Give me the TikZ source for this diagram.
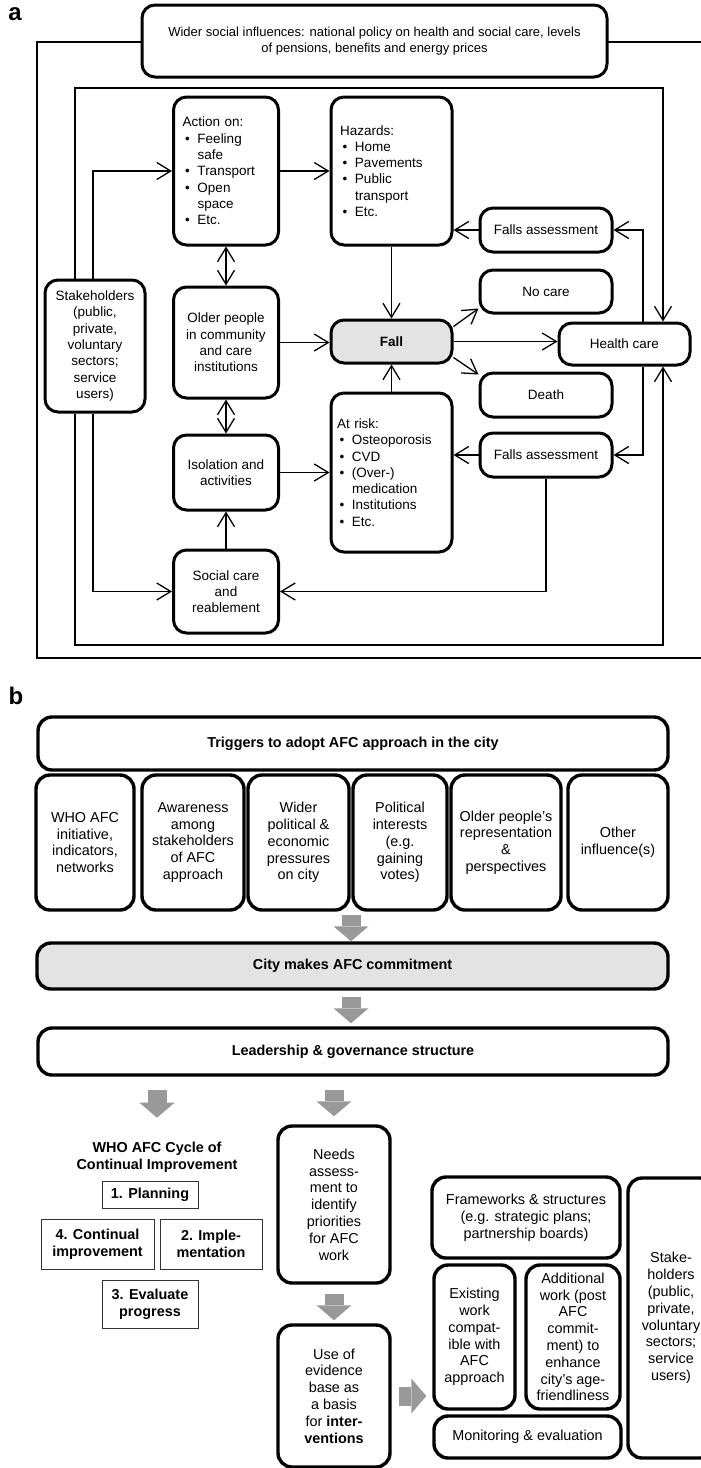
\documentclass[tikz,border=0pt]{standalone}
\usepackage{fontspec}
\setmainfont{Liberation Sans}
\usetikzlibrary{arrows.meta,calc}
\definecolor{blockgray}{gray}{0.6}
\definecolor{boxgray}{gray}{0.89}
\newcommand{\lbul}{\makebox[15pt][l]{\hspace{2.5pt}\textbullet}}
\newcommand{\lind}{\hspace*{15pt}}
\begin{document}
\begin{tikzpicture}[x=1pt,y=-1pt,
  fa/.style={font=\fontsize{13.5}{16.3}\selectfont},
  fb/.style={font=\fontsize{14.4}{16.8}\selectfont},
  fbb/.style={font=\fontsize{14.4}{16.8}\selectfont\bfseries},
  abox/.style={draw, line width=3pt, rounded corners=13pt, fill=white, fa, align=center, inner sep=2pt},
  lst/.style={abox, align=left},
  bbox/.style={draw, line width=3.4pt, rounded corners=14pt, fill=white, fb, align=center, inner sep=2pt},
  cbox/.style={draw=black!80, line width=1pt, fbb, align=center, inner sep=2pt},
  conn/.style={line width=1.3pt, -{Straight Barb[length=14pt,width=17pt]}},
  dconn/.style={line width=1.3pt, {Straight Barb[length=14pt,width=17pt]}-{Straight Barb[length=14pt,width=17pt]}},
  frameline/.style={line width=1.5pt},
  blk/.style={draw=blockgray, line width=19pt, -{Triangle[length=15pt,width=35pt,line width=0pt]}},
  plabel/.style={font=\fontsize{24}{24}\selectfont\bfseries, inner sep=0pt},
]
\path[use as bounding box] (0,0) rectangle (701,1468);
\clip (0,0) rectangle (701,1468);

% ---------------- panel a ----------------
\draw[frameline] (710,42) -- (37,42) -- (37,658) -- (710,658);
\node[plabel] (la) at (15,14) {a};
\node[abox, minimum width=465pt, minimum height=72pt, font=\fontsize{13}{16.7}\selectfont] (top) at (374.5,41)
  {Wider social influences: national policy on health and social care, levels\\of pensions, benefits and energy prices};

\node[lst, text width=87pt, inner xsep=9pt, minimum height=148pt] (action) at (226,171)
  {Action on:\\\lbul Feeling\\\lind safe\\\lbul Transport\\\lbul Open\\\lind space\\\lbul Etc.};
\node[lst, text width=103pt, inner xsep=9pt, minimum height=148pt] (hazards) at (391.5,171)
  {Hazards:\\\lbul Home\\\lbul Pavements\\\lbul Public\\\lind transport\\\lbul Etc.};
\node[abox, minimum width=100pt, minimum height=132pt] (stake) at (95,346)
  {Stakeholders\\(public,\\private,\\voluntary\\sectors;\\service\\users)};
\node[abox, minimum width=105pt, minimum height=111pt] (older) at (226,342.5)
  {Older people\\in community\\and care\\institutions};
\node[abox, fill=boxgray, minimum width=121pt, minimum height=43pt] (fall) at (391.5,341.5) {\textbf{Fall}};
\node[abox, minimum width=105pt, minimum height=75pt] (isol) at (226,472.5) {Isolation and\\activities};
\node[abox, minimum width=105pt, minimum height=83pt] (social) at (226,591.5) {Social care\\and\\reablement};
\node[lst, text width=109pt, inner xsep=6pt, minimum height=159pt] (atrisk) at (391.5,472.5)
  {At risk:\\\lbul Osteoporosis\\\lbul CVD\\\lbul (Over-)\\\lind medication\\\lbul Institutions\\\lbul Etc.};
\node[abox, minimum width=132pt, minimum height=44pt] (fa1) at (546,230) {Falls assessment};
\node[abox, minimum width=132pt, minimum height=43pt] (nocare) at (546,291.5) {No care};
\node[abox, minimum width=131pt, minimum height=42pt] (health) at (624.5,344) {Health care};
\node[abox, minimum width=132pt, minimum height=44pt] (death) at (546,395) {Death};
\node[abox, minimum width=132pt, minimum height=44pt] (fa2) at (546,455) {Falls assessment};

\coordinate (tl) at (75,88);
\coordinate (tr) at (663,88);
\coordinate (bl) at (75,645);
\coordinate (br) at (663,645);
\coordinate (s1) at (93,0);
\coordinate (hx) at (643,0);

\draw[conn] (stake.north -| tl) -- (tl) -- (tr) -- (health.north -| tr);
\draw[conn] (stake.south -| bl) -- (bl) -- (br) -- (health.south -| br);
\draw[conn] (stake.north -| s1) |- (action.west);
\draw[conn] (stake.south -| s1) |- (social.west);
\draw[conn] (action.east) -- (hazards.west);
\draw[dconn] (action.south) -- (older.north);
\draw[conn] (older.east) -- (older.east -| fall.west);
\draw[dconn] (older.south) -- (isol.north);
\draw[conn] (social.north) -- (isol.south);
\draw[conn] (isol.east) -- (isol.east -| atrisk.west);
\draw[conn] (atrisk.north) -- (fall.south);
\draw[conn] (hazards.south) -- (fall.north);
\draw[conn] ([yshift=15pt]fall.east) -- ([yshift=6pt]nocare.south west);
\draw[conn] ([yshift=-16pt]fall.east) -- ([yshift=-3pt]death.north west);
\draw[conn] (fall.east) -- (fall.east -| health.west);
\draw[conn] (fa1.west) -- (fa1.west -| hazards.east);
\draw[conn] (health.north -| hx) |- (fa1.east);
\draw[conn] (health.south -| hx) |- (fa2.east);
\draw[conn] (fa2.west) -- (fa2.west -| atrisk.east);
\draw[conn] (fa2.south) |- (social.east);

% ---------------- panel b ----------------
\node[plabel] (lb) at (16,696) {b};
\node[bbox, fbb, minimum width=630pt, minimum height=53pt] (trig) at (353,743.5) {Triggers to adopt AFC approach in the city};
\node[bbox, minimum width=98pt, minimum height=135pt] (t1) at (85,842.5) {WHO AFC\\initiative,\\indicators,\\networks};
\node[bbox, minimum width=102pt, minimum height=135pt] (t2) at (193,842.5) {Awareness\\among\\stakeholders\\of AFC\\approach};
\node[bbox, minimum width=101pt, minimum height=135pt] (t3) at (298.5,842.5) {Wider\\political \&\\economic\\pressures\\on city};
\node[bbox, minimum width=94pt, minimum height=135pt] (t4) at (400,842.5) {Political\\interests\\(e.g.\\gaining\\votes)};
\node[bbox, minimum width=110pt, minimum height=135pt] (t5) at (506,842.5) {Older people’s\\representation\\\&\\perspectives};
\node[bbox, minimum width=100pt, minimum height=135pt] (t6) at (618,842.5) {Other\\influence(s)};

\node[bbox, fbb, fill=boxgray, minimum width=631pt, minimum height=46pt] (city) at (352.5,966) {City makes AFC commitment};
\node[bbox, fbb, minimum width=630pt, minimum height=47pt] (lead) at (353,1051.5) {Leadership \& governance structure};

\node[fbb, align=center, inner sep=2pt] (cyc) at (157,1157) {WHO AFC Cycle of\\Continual Improvement};
\node[cbox, minimum width=96pt, minimum height=27pt] (p1) at (150,1194.5) {1. Planning};
\node[cbox, minimum width=113pt, minimum height=50pt] (p4) at (97.5,1244) {4. Continual\\improvement};
\node[cbox, minimum width=102pt, minimum height=50pt] (p2) at (211,1244) {2. Imple-\\mentation};
\node[cbox, minimum width=96pt, minimum height=48pt] (p3) at (150,1304) {3. Evaluate\\progress};

\node[bbox, minimum width=112pt, minimum height=157pt] (needs) at (334,1204.5)
  {Needs\\assess-\\ment to\\identify\\priorities\\for AFC\\work};
\node[bbox, minimum width=112pt, minimum height=142pt] (use) at (334,1396)
  {Use of\\evidence\\base as\\a basis\\for \textbf{inter-}\\\textbf{ventions}};
\node[bbox, minimum width=188pt, minimum height=81pt] (frame) at (526,1217.5)
  {Frameworks \& structures\\(e.g. strategic plans;\\partnership boards)};
\node[bbox, minimum width=81pt, minimum height=144pt] (exist) at (474.5,1337)
  {Existing\\work\\compat-\\ible with\\AFC\\approach};
\node[bbox, minimum width=94pt, minimum height=144pt] (addit) at (573,1337)
  {Additional\\work (post\\AFC\\commit-\\ment) to\\enhance\\city’s age-\\friendliness};
\node[bbox, minimum width=187pt, minimum height=42pt] (monit) at (527.5,1437) {Monitoring \& evaluation};
\node[bbox, minimum width=86pt, minimum height=280pt] (stakeb) at (671,1318)
  {Stake-\\holders\\(public,\\private,\\voluntary\\sectors;\\service\\users)};

\coordinate (m1) at ($(t3.south east)!.5!(t4.south west)$);
\draw[blk, shorten <=3pt] (m1) -- (city.north -| m1);
\draw[blk, shorten <=6pt, shorten >=3pt] (city.south -| m1) -- (lead.north -| m1);
\draw[blk, shorten <=13pt, shorten >=22pt] (lead.south -| cyc.north) -- (cyc.north);
\draw[blk, shorten <=13pt, shorten >=8pt] (lead.south -| needs.north) -- (needs.north);
\draw[blk, shorten <=9pt, shorten >=3pt] (needs.south) -- (use.north);
\draw[blk, shorten <=7pt, shorten >=6pt] (use.east) -- (use.east -| exist.west);
\end{tikzpicture}
\end{document}
